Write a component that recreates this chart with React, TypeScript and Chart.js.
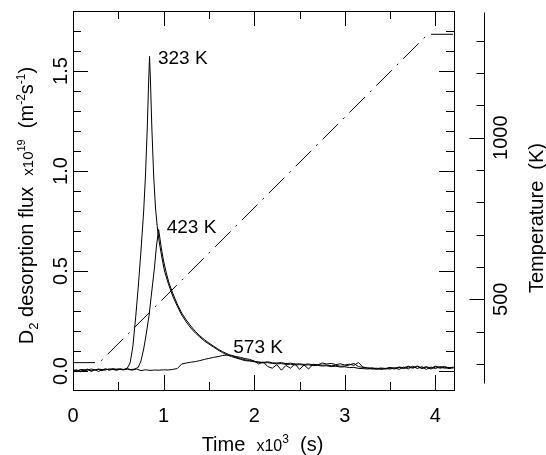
import React, { useEffect, useRef } from "react";
import { Chart, registerables } from "chart.js";

Chart.register(...registerables);

// ---------- data (time in 10^3 s, flux in 10^19 m^-2 s^-1, temperature in K) ----------
const TIME_323 = [
  0.0, 0.04, 0.08, 0.12, 0.16, 0.2, 0.24, 0.28, 0.32, 0.36, 0.4, 0.44, 0.48, 0.52, 0.56, 0.6,
  0.63, 0.66, 0.69, 0.72, 0.75, 0.78,
  0.8, 0.82, 0.835, 0.845, 0.855, 0.87, 0.89, 0.91, 0.93, 0.95, 0.98, 1.01,
  1.05,
  1.1, 1.15, 1.2, 1.25, 1.3, 1.35, 1.4, 1.45, 1.5, 1.55, 1.6, 1.65, 1.7, 1.75, 1.8, 1.85, 1.9, 1.95, 2.0,
  2.05, 2.1, 2.15, 2.2, 2.25, 2.3, 2.35, 2.4, 2.45, 2.5,
  2.55, 2.6, 2.65, 2.7, 2.75, 2.8, 2.85, 2.9, 2.95, 3.0,
  3.05, 3.1, 3.15, 3.2, 3.25, 3.3, 3.35, 3.4, 3.45, 3.5,
  3.55, 3.6, 3.65, 3.7, 3.75, 3.8, 3.85, 3.9, 3.95, 4.0,
  4.05, 4.1, 4.15, 4.2,
];
const FLUX_323 = [
  0.004, -0.003, 0.006, 0.0, 0.008, -0.002, 0.005, 0.01, 0.002, 0.009, 0.006, 0.012, 0.008, 0.01, 0.006, 0.015,
  0.04, 0.12, 0.26, 0.42, 0.6, 0.8,
  0.98, 1.22, 1.45, 1.573, 1.45, 1.22, 0.98, 0.82, 0.72, 0.65, 0.57, 0.5,
  0.44,
  0.375, 0.325, 0.28, 0.245, 0.215, 0.19, 0.17, 0.15, 0.135, 0.12, 0.105, 0.092, 0.08, 0.072, 0.065, 0.058, 0.052, 0.05, 0.046,
  0.044, 0.04, 0.042, 0.038, 0.036, 0.037, 0.033, 0.034, 0.03, 0.032,
  0.029, 0.031, 0.027, 0.028, 0.025, 0.026, 0.022, 0.024, 0.02, 0.021,
  0.017, 0.018, 0.013, 0.012, 0.01, 0.012, 0.008, 0.012, 0.01, 0.015,
  0.01, 0.018, 0.012, 0.02, 0.014, 0.022, 0.012, 0.018, 0.01, 0.02,
  0.014, 0.018, 0.012, 0.016,
];

const TIME_423 = [
  0.0, 0.04, 0.08, 0.12, 0.16, 0.2, 0.24, 0.28, 0.32, 0.36, 0.4, 0.44, 0.48, 0.52, 0.56, 0.6, 0.64, 0.68,
  0.72, 0.75, 0.78, 0.81, 0.84, 0.87, 0.9, 0.92, 0.945, 0.96, 0.98, 1.0, 1.03, 1.06,
  1.1, 1.15, 1.2, 1.25, 1.3, 1.35, 1.4, 1.45, 1.5, 1.55, 1.6, 1.65, 1.7, 1.75, 1.8, 1.85, 1.9, 1.95, 2.0,
  2.05, 2.1, 2.15, 2.2, 2.25, 2.3, 2.35, 2.4, 2.45, 2.5,
  2.55, 2.6, 2.65, 2.7, 2.75, 2.8, 2.85, 2.9, 2.95, 3.0,
  3.05, 3.1, 3.15, 3.2, 3.25, 3.3, 3.35, 3.4, 3.45, 3.5,
  3.55, 3.6, 3.65, 3.7, 3.75, 3.8, 3.85, 3.9, 3.95, 4.0,
  4.05, 4.1, 4.15, 4.2,
];
const FLUX_423 = [
  0.0, 0.006, -0.004, 0.004, 0.009, 0.001, 0.007, -0.002, 0.006, 0.011, 0.004, 0.009, 0.003, 0.01, 0.008, 0.012, 0.007, 0.01,
  0.018, 0.05, 0.11, 0.19, 0.28, 0.4, 0.52, 0.62, 0.708, 0.66, 0.6, 0.55, 0.49, 0.44,
  0.39, 0.335, 0.29, 0.255, 0.225, 0.198, 0.176, 0.157, 0.14, 0.125, 0.11, 0.097, 0.086, 0.077, 0.069, 0.062, 0.056, 0.052, 0.048,
  0.045, 0.043, 0.046, 0.041, 0.04, 0.042, 0.037, 0.039, 0.035, 0.036,
  0.033, 0.035, 0.031, 0.032, 0.029, 0.03, 0.026, 0.028, 0.024, 0.025,
  0.03, 0.038, 0.022, 0.018, 0.014, 0.016, 0.012, 0.015, 0.013, 0.018,
  0.014, 0.02, 0.016, 0.024, 0.017, 0.025, 0.015, 0.022, 0.014, 0.024,
  0.018, 0.023, 0.015, 0.02,
];

const TIME_573 = [
  0.0, 0.05, 0.1, 0.15, 0.2, 0.25, 0.3, 0.35, 0.4, 0.45, 0.5,
  0.55, 0.6, 0.65, 0.7, 0.75, 0.8, 0.85, 0.9, 0.95, 1.0, 1.05, 1.1,
  1.15, 1.2, 1.25, 1.3, 1.35, 1.4, 1.45, 1.5, 1.55, 1.6, 1.65, 1.7, 1.75, 1.8, 1.85, 1.9, 1.95, 2.0,
  2.05, 2.1, 2.15, 2.2, 2.25, 2.3, 2.35, 2.4, 2.45, 2.5,
  2.55, 2.6, 2.65, 2.7, 2.75, 2.8, 2.85, 2.9, 2.95, 3.0,
  3.05, 3.1, 3.15, 3.2, 3.25, 3.3, 3.35, 3.4, 3.45, 3.5,
  3.55, 3.6, 3.65, 3.7, 3.75, 3.8, 3.85, 3.9, 3.95, 4.0,
  4.05, 4.1, 4.15, 4.2,
];
const FLUX_573 = [
  0.006, 0.002, 0.008, 0.003, 0.01, 0.005, 0.009, 0.004, 0.011, 0.007, 0.01,
  0.006, 0.009, 0.004, 0.01, 0.002, 0.006, 0.003, 0.005, 0.004, 0.006, 0.005, 0.008,
  0.012, 0.035, 0.04, 0.044, 0.047, 0.052, 0.058, 0.063, 0.068, 0.072, 0.077, 0.08, 0.078, 0.072, 0.068, 0.062, 0.058, 0.05,
  0.035, 0.045, 0.022, 0.014, 0.032, 0.004, 0.028, 0.014, 0.036, 0.008,
  0.03, 0.01, 0.034, 0.03, 0.04, 0.035, 0.038, 0.032, 0.036, 0.03,
  0.034, 0.028, 0.042, 0.02, 0.016, 0.01, 0.014, 0.008, 0.012, 0.01,
  0.016, 0.008, 0.02, 0.01, 0.024, 0.012, 0.022, 0.008, 0.02, 0.012,
  0.022, 0.014, 0.018, 0.016,
];

const TIME_RAMP = [0.0, 0.29, 3.915, 4.21];
const TEMP_RAMP = [304, 304, 1320, 1320];

// ---------- axes ----------
const X_MAJOR = [0, 1, 2, 3, 4];
const X_LABELS = ["0", "1", "2", "3", "4"];
const X_MINOR = [0.5, 1.5, 2.5, 3.5];
const Y_MAJOR = [0, 0.5, 1.0, 1.5];
const Y_LABELS = ["0.0", "0.5", "1.0", "1.5"];
const Y_MINOR = [0.1, 0.2, 0.3, 0.4, 0.6, 0.7, 0.8, 0.9, 1.1, 1.2, 1.3, 1.4, 1.6, 1.7];
const T_MAJOR = [500, 1000];
const T_LABELS = ["500", "1000"];
const T_MINOR = [300, 400, 600, 700, 800, 900, 1100, 1200, 1300];

const PEAK_LABELS = ["323 K", "423 K", "573 K"];
const PEAK_LABEL_T = [0.938, 1.034, 1.769];
const PEAK_LABEL_V = [1.537, 0.688, 0.088];

const FONT = '"Liberation Sans", Arial, Helvetica, sans-serif';

type Part = { t: string; s: number; dy?: number };

function drawRich(ctx: CanvasRenderingContext2D, parts: Part[], x: number, y: number, rot: number) {
  ctx.save();
  ctx.translate(x, y);
  ctx.rotate(rot);
  ctx.textBaseline = "alphabetic";
  ctx.textAlign = "left";
  let total = 0;
  const widths: number[] = [];
  for (const p of parts) {
    ctx.font = `${p.s}px ${FONT}`;
    const w = ctx.measureText(p.t).width;
    widths.push(w);
    total += w;
  }
  let cx = -total / 2;
  parts.forEach((p, i) => {
    ctx.font = `${p.s}px ${FONT}`;
    ctx.fillText(p.t, cx, p.dy || 0);
    cx += widths[i];
  });
  ctx.restore();
}

const axesPlugin = {
  id: "customAxes",
  afterDraw(chart: any) {
    const ctx: CanvasRenderingContext2D = chart.ctx;
    const { left: L, right: R, top: T, bottom: B } = chart.chartArea;
    const xs = chart.scales.x;
    const ys = chart.scales.y;
    const ts = chart.scales.y2;
    const px = (v: number) => Math.round(v) + 0.5;
    ctx.save();
    ctx.strokeStyle = "#000";
    ctx.fillStyle = "#000";
    ctx.lineWidth = 1;

    // frame
    ctx.strokeRect(px(L), px(T), Math.round(R) - Math.round(L), Math.round(B) - Math.round(T));

    const line = (x1: number, y1: number, x2: number, y2: number) => {
      ctx.beginPath();
      ctx.moveTo(x1, y1);
      ctx.lineTo(x2, y2);
      ctx.stroke();
    };

    // x ticks (bottom and top, inward)
    X_MAJOR.forEach((v) => {
      const x = px(xs.getPixelForValue(v));
      line(x, B, x, B - 15);
      line(x, T, x, T + 15);
    });
    X_MINOR.forEach((v) => {
      const x = px(xs.getPixelForValue(v));
      line(x, B, x, B - 8);
      line(x, T, x, T + 8);
    });
    // y ticks (left and right frame, inward)
    Y_MAJOR.forEach((v) => {
      const y = px(ys.getPixelForValue(v));
      line(L, y, L + 15, y);
      line(R, y, R - 15, y);
    });
    Y_MINOR.forEach((v) => {
      const y = px(ys.getPixelForValue(v));
      line(L, y, L + 8, y);
      line(R, y, R - 8, y);
    });

    // separate temperature axis
    const AX = px(R + 30);
    line(AX, px(T + 1), AX, px(B - 7));
    T_MAJOR.forEach((v) => {
      const y = px(ts.getPixelForValue(v));
      line(AX, y, AX - 15, y);
    });
    T_MINOR.forEach((v) => {
      const y = px(ts.getPixelForValue(v));
      if (y > T && y < B) line(AX, y, AX - 8, y);
    });

    // tick labels
    ctx.font = `20px ${FONT}`;
    ctx.textAlign = "center";
    ctx.textBaseline = "alphabetic";
    X_MAJOR.forEach((v, i) => {
      ctx.fillText(X_LABELS[i], xs.getPixelForValue(v), B + 31.5);
    });
    Y_MAJOR.forEach((v, i) => {
      ctx.save();
      ctx.translate(L - 6, ys.getPixelForValue(v));
      ctx.rotate(-Math.PI / 2);
      ctx.fillText(Y_LABELS[i], 0, 0);
      ctx.restore();
    });
    T_MAJOR.forEach((v, i) => {
      ctx.save();
      ctx.translate(AX + 22.5, ts.getPixelForValue(v));
      ctx.rotate(-Math.PI / 2);
      ctx.fillText(T_LABELS[i], 0, 0);
      ctx.restore();
    });

    // peak annotations
    ctx.font = `19px ${FONT}`;
    ctx.textAlign = "left";
    PEAK_LABELS.forEach((s, i) => {
      ctx.fillText(s, xs.getPixelForValue(PEAK_LABEL_T[i]), ys.getPixelForValue(PEAK_LABEL_V[i]));
    });

    // axis titles
    drawRich(
      ctx,
      [
        { t: "D", s: 20 },
        { t: "2", s: 13, dy: 5 },
        { t: " desorption flux  ", s: 20 },
        { t: "x10", s: 15 },
        { t: "19", s: 11, dy: -8 },
        { t: "  (m", s: 20 },
        { t: "-2", s: 12, dy: -8 },
        { t: "s", s: 20 },
        { t: "-1", s: 12, dy: -8 },
        { t: ")", s: 20 },
      ],
      L - 40,
      (T + B) / 2 + 5,
      -Math.PI / 2
    );
    drawRich(ctx, [{ t: "Temperature  (K)", s: 20 }], AX + 58.5, 218, -Math.PI / 2);
    drawRich(
      ctx,
      [
        { t: "Time  ", s: 20 },
        { t: "x10", s: 16 },
        { t: "3", s: 12, dy: -8 },
        { t: "  (s)", s: 20 },
      ],
      (L + R) / 2 - 1,
      B + 61,
      0
    );
    ctx.restore();
  },
};

function pts(xs: number[], ys: number[]) {
  return xs.map((x, i) => ({ x, y: ys[i] }));
}

export default function App() {
  const ref = useRef<HTMLCanvasElement | null>(null);
  useEffect(() => {
    document.body.style.margin = "0";
    if (!ref.current) return;
    const common = { borderColor: "#000", borderWidth: 1, pointRadius: 0, tension: 0, fill: false };
    const chart = new Chart(ref.current, {
      type: "line",
      data: {
        datasets: [
          { ...common, label: "323 K", data: pts(TIME_323, FLUX_323), yAxisID: "y" },
          { ...common, label: "423 K", data: pts(TIME_423, FLUX_423), yAxisID: "y" },
          { ...common, label: "573 K", data: pts(TIME_573, FLUX_573), yAxisID: "y" },
          {
            ...common,
            label: "Temperature",
            data: pts(TIME_RAMP, TEMP_RAMP),
            yAxisID: "y2",
            borderDash: [22, 7, 2, 7],
          },
        ],
      },
      options: {
        animation: false,
        responsive: false,
        maintainAspectRatio: false,
        layout: { padding: { left: 73, top: 11, right: 92, bottom: 65 } },
        plugins: { legend: { display: false }, tooltip: { enabled: false } },
        scales: {
          x: { type: "linear", min: 0, max: 4.205, display: false },
          y: { type: "linear", min: -0.095, max: 1.8, display: false },
          y2: { type: "linear", min: 219.4, max: 1392, display: false },
        },
      },
      plugins: [axesPlugin],
    });
    return () => chart.destroy();
  }, []);
  return (
    <div style={{ width: 546, height: 455 }}>
      <canvas ref={ref} width={546} height={455} style={{ display: "block" }} />
    </div>
  );
}
